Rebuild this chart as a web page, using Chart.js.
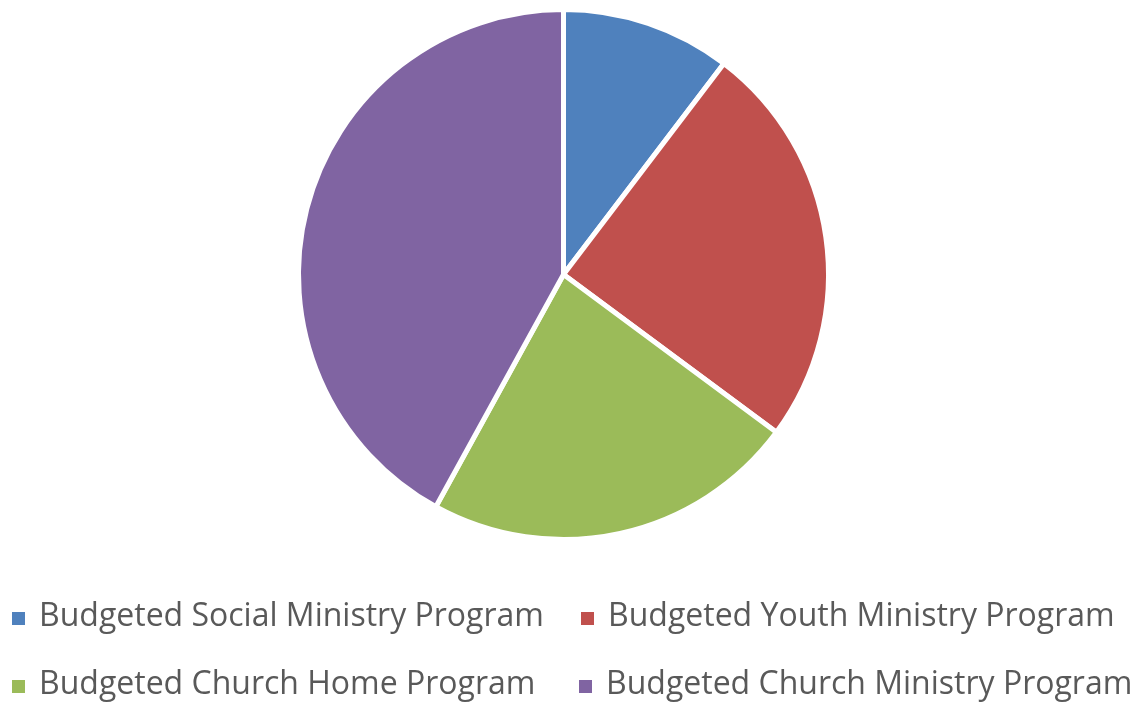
<!DOCTYPE html>
<html>
<head>
<meta charset="utf-8">
<title>Budgeted Programs</title>
<script src="https://cdn.jsdelivr.net/npm/chart.js@4/dist/chart.umd.min.js"></script>
<style>
  html, body { margin: 0; padding: 0; background: #ffffff; }
  #wrap { width: 1140px; height: 703px; position: relative; }
</style>
</head>
<body>
<div id="wrap"><canvas id="budgetPie" width="1140" height="703"></canvas></div>
<script>
// Program categories and their share of the budget (percent)
const programs = [
  'Budgeted Social Ministry Program',
  'Budgeted Youth Ministry Program',
  'Budgeted Church Home Program',
  'Budgeted Church Ministry Program'
];
const budgetShare = [10.35, 24.8, 22.85, 42.0];
const sliceColors = ['#4F81BD', '#C0504D', '#9BBB59', '#8064A2'];

// Two-column legend drawn under the pie: marker left edge and text baseline per item
const legendSlots = [
  { x: 12,  y: 626 },
  { x: 581, y: 626 },
  { x: 12,  y: 694 },
  { x: 579, y: 694 }
];

const gridLegend = {
  id: 'gridLegend',
  afterDraw(chart) {
    const ctx = chart.ctx;
    const ds = chart.data.datasets[0];
    ctx.save();
    ctx.font = '32px "Open Sans", sans-serif';
    ctx.textBaseline = 'alphabetic';
    ctx.textAlign = 'left';
    chart.data.labels.forEach((label, i) => {
      const slot = legendSlots[i];
      ctx.fillStyle = ds.backgroundColor[i];
      ctx.fillRect(slot.x, slot.y - 14, 13, 13);
      ctx.fillStyle = '#595959';
      ctx.fillText(label, slot.x + 27, slot.y);
    });
    ctx.restore();
  }
};

new Chart(document.getElementById('budgetPie'), {
  type: 'pie',
  data: {
    labels: programs,
    datasets: [{
      data: budgetShare,
      backgroundColor: sliceColors,
      borderColor: '#ffffff',
      borderWidth: 5,
      radius: 265
    }]
  },
  options: {
    responsive: false,
    animation: false,
    layout: { padding: { left: 0, right: 13, top: 0, bottom: 154 } },
    plugins: {
      legend: { display: false },
      tooltip: { enabled: false }
    }
  },
  plugins: [gridLegend]
});
</script>
</body>
</html>
